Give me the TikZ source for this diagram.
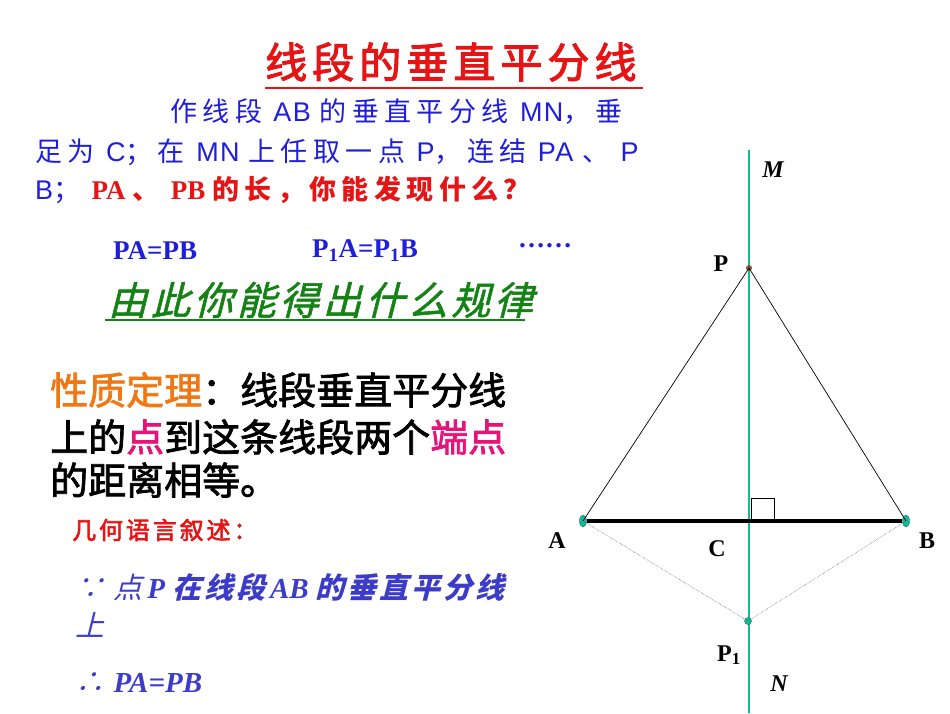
\documentclass[tikz,border=0pt]{standalone}
\usepackage{fontspec}
\setmainfont{Liberation Serif}
\newfontfamily\cjk{Noto Sans CJK SC}
\newfontfamily\cjks{Noto Sans CJK SC}[LetterSpace=20]
\newfontfamily\cjkit{Noto Sans CJK SC}[FakeSlant=0.25,LetterSpace=10]
\newfontfamily\cjkb{Noto Sans CJK SC}[FakeBold=2]
\newfontfamily\cjkbs{Noto Sans CJK SC}[FakeBold=2.5,LetterSpace=12]
\newfontfamily\lsans{Liberation Sans}[LetterSpace=5]
\definecolor{tb}{RGB}{30,30,220}
\definecolor{tr}{RGB}{230,20,20}
\definecolor{tg}{RGB}{20,130,20}
\definecolor{tor}{RGB}{240,120,20}
\definecolor{tm}{RGB}{230,20,120}
\definecolor{tp}{RGB}{60,60,200}
\definecolor{teal}{RGB}{20,185,150}
\tikzset{txt/.style={anchor=west,inner sep=0pt},
 lab/.style={inner sep=0pt,font=\fontsize{24}{24}\selectfont\bfseries},
 pt/.style={fill=teal,draw=teal!60!black,ellipse,minimum width=7pt,minimum height=12pt,inner sep=0pt}}
\usetikzlibrary{shapes.geometric}
\begin{document}
\begin{tikzpicture}[x=1pt,y=-1pt]
\useasboundingbox (0,0) rectangle (950,713);
% title
\node[txt,text=tr] (t) at (265,62) {\fontsize{42}{42}\selectfont\cjkbs 线段的垂直平分线};
\draw[tr,line width=2.5pt] (265,88) -- (643,88);
% paragraph
\node[txt,text=tb] (p1) at (170,112) {\fontsize{27}{27}\selectfont\cjks 作线段 \lsans AB \cjks 的垂直平分线 \lsans MN\cjks ，垂};
\node[txt,text=tb] (p2) at (35,152) {\fontsize{27}{27}\selectfont\cjks 足为 \lsans C\cjks ；在 \lsans MN \cjks 上任取一点 \lsans P\cjks ，连结 \lsans PA \cjks 、 \lsans P};
\node[txt,text=tb] (p3) at (35,190) {\fontsize{27}{27}\selectfont\lsans B\cjks ； \textcolor{tr}{\bfseries\rmfamily PA \cjks 、 \rmfamily\bfseries PB \cjks 的长，你能发现什么？}};
% equalities
\node[txt,text=tb] (e1) at (113,251) {\fontsize{27}{27}\selectfont\bfseries PA=PB};
\node[txt,text=tb] (e2) at (312,251) {\fontsize{27}{27}\selectfont\bfseries P\textsubscript{1}A=P\textsubscript{1}B};
\node[txt,text=tb] (e3) at (518,246) {\fontsize{27}{27}\selectfont\bfseries ……};
% green
\node[txt,text=tg] (g) at (108,300) {\fontsize{39}{39}\selectfont\cjkit\addfontfeature{FakeBold=1.5} 由此你能得出什么规律};
\draw[tg,line width=2.5pt] (105,320) -- (525,320);
% theorem
\node[txt] (th1) at (50,390) {\fontsize{38}{38}\selectfont\textcolor{tor}{\cjkb 性质定理}\cjkb ：线段垂直平分线};
\node[txt] (th2) at (50,437) {\fontsize{38}{38}\selectfont\cjkb 上的\textcolor{tm}{点}到这条线段两个\textcolor{tm}{端点}};
\node[txt] (th3) at (50,480) {\fontsize{38}{38}\selectfont\cjkb 的距离相等。};
\node[txt,text=tr] (gl) at (72,530) {\fontsize{24}{24}\selectfont\cjkbs 几何语言叙述：};
\node[txt,text=tp] (s1) at (75,587) {\fontsize{29}{29}\selectfont\cjkit ∵ 点\,\rmfamily\bfseries\itshape P \cjkit 在线段\,\rmfamily\bfseries\itshape AB \cjkit 的垂直平分线};
\node[txt,text=tp] (s2) at (75,625) {\fontsize{29}{29}\selectfont\cjkit 上};
\node[txt,text=tp] (s3) at (75,683) {\fontsize{29}{29}\selectfont\cjkit ∴ \rmfamily\bfseries\itshape PA=PB};
% geometry
\coordinate (M0) at (749,150);
\coordinate (N0) at (749,713);
\draw[teal,line width=2.5pt] (M0) -- (N0);
\node[pt] (A) at (583,521) {};
\node[pt] (B) at (906,521) {};
\node[circle,fill=brown!70!black,inner sep=0pt,minimum size=6pt] (P) at (749,268) {};
\node[circle,fill=teal,draw=teal!60!black,inner sep=0pt,minimum size=7pt] (P1) at (748,621) {};
\draw[line width=0.7pt] (A.center) -- (P.center) -- (B.center);
\draw[gray!70!black,line width=0.5pt,densely dotted] (A.center) -- (P1.center) -- (B.center);
\draw[line width=3.5pt] (A.east) -- (B.west);
\draw[line width=1pt] (751,519) -- (751,498) -- (774,498) -- (774,519);
\node[lab,font=\fontsize{24}{24}\selectfont\bfseries\itshape] (Ml) at (773,170) {M};
\node[lab] (Pl) at (721,264) {P};
\node[lab] (Al) at (557,541) {A};
\node[lab] (Cl) at (717,549) {C};
\node[lab] (Bl) at (927,541) {B};
\node[lab] (P1l) at (729,655) {P\textsubscript{1}};
\node[lab,font=\fontsize{24}{24}\selectfont\bfseries\itshape] (Nl) at (779,684) {N};
\end{tikzpicture}
\end{document}
